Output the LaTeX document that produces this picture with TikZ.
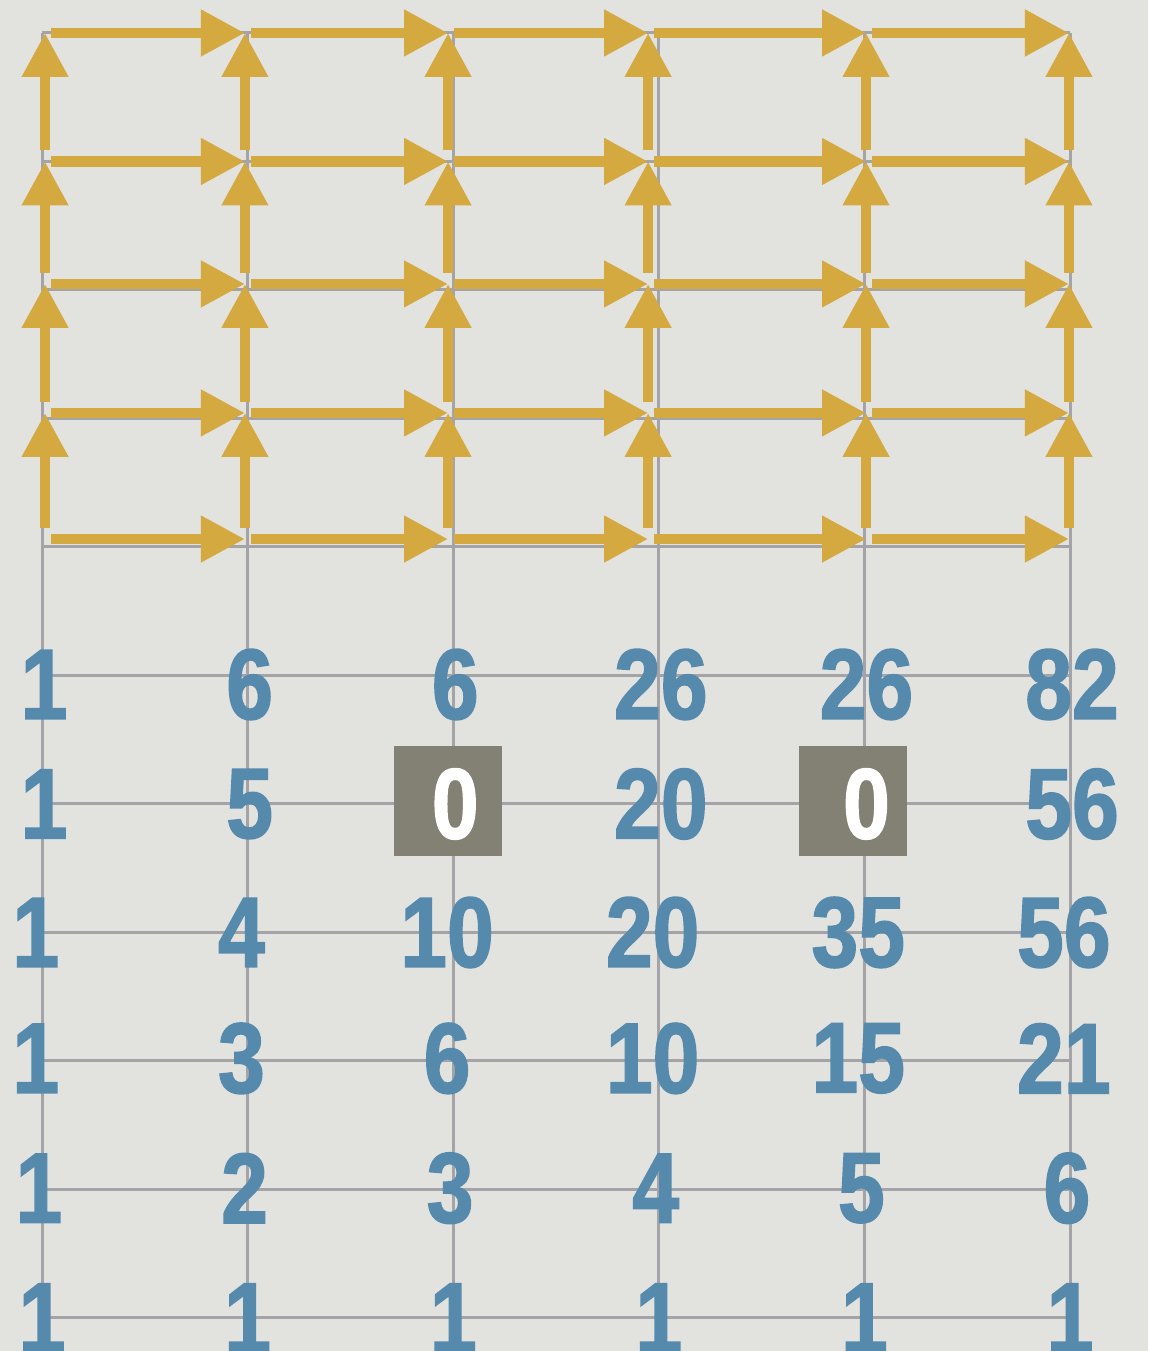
\documentclass[tikz,border=0pt]{standalone}
\usepackage{fontspec}
\setmainfont{Liberation Sans}[FakeStretch=0.84,FakeBold=1.5]
\usetikzlibrary{arrows.meta}
\definecolor{papel}{RGB}{226,226,222}
\definecolor{ouro}{RGB}{211,169,64}
\definecolor{azul}{RGB}{86,138,173}
\definecolor{cinza}{RGB}{163,163,168}
\definecolor{caixacor}{RGB}{131,128,116}
\begin{document}
\begin{tikzpicture}[x=4.112cm,y=2.57cm,
    seta/.style={ouro, line width=0.21cm, -{Triangle[length=0.88cm,width=0.88cm]}},
    num/.style={azul, inner sep=0pt, font=\fontsize{57}{60}\selectfont\bfseries},
    zero/.style={num, white},
    caixa/.style={fill=caixacor, minimum width=2.16cm, minimum height=2.2cm, inner sep=0pt}]
    \fill[papel] (-0.2043,-0.2568) rectangle (5.3794,10.2568);
    \clip (-0.2043,-0.2568) rectangle (5.3794,10.2568);
    \draw[cinza, line width=0.06cm, step=1] (0,0) grid (5,10);
    \foreach \c/\x in {0/0.015,1/0.987,2/1.975,3/2.948,4/4.008,5/4.995}
      \foreach \r/\y in {0/6.062,1/7.043,2/8.047,3/9,4/10}
        \coordinate (v\c\r) at (\x,\y);
    \foreach \c/\d in {0/1,1/2,2/3,3/4,4/5}
      \foreach \r in {0,...,4}
        \draw[seta, shorten <=0.12cm] (v\c\r) -- (v\d\r);
    \foreach \c in {0,...,5}
      \foreach \r/\t in {0/1,1/2,2/3,3/4}
        \draw[seta, shorten <=0.22cm] (v\c\r) -- (v\c\t);
    \node[caixa] (cx1) at (1.975,4.023) {};
    \node[caixa] (cx2) at (3.945,4.023) {};
    \foreach \r/\dx/\dy/\vals in {5/0.01/-0.07/{1,6,6,26,26,82}, 4/0.01/0/{1,5,0,20,0,56},
        3/-0.03/0/{1,4,10,20,35,56}, 2/-0.03/0.02/{1,3,6,10,15,21},
        1/-0.015/0.01/{1,2,3,4,5,6}, 0/0/0/{1,1,1,1,1,1}}
      \foreach \v [count=\c from 0] in \vals {
        \ifnum\v=0 \def\estilo{zero}\else\def\estilo{num}\fi
        \node[\estilo] (n\c\r) at (\c+\dx,\r+\dy) {\v};
      }
\end{tikzpicture}
\end{document}
